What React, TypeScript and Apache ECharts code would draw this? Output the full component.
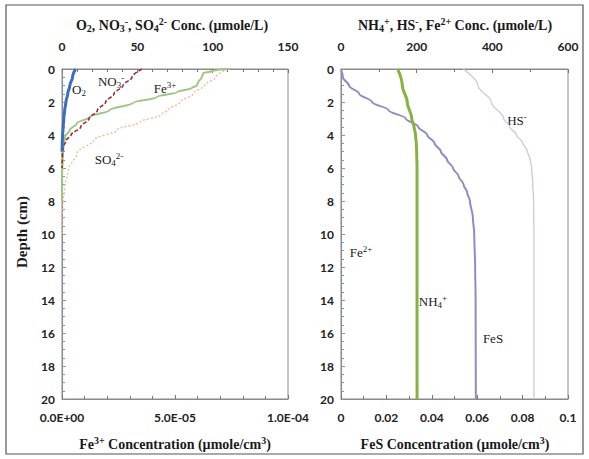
import React, { useEffect, useRef } from "react";
import * as echarts from "echarts";

// ---- Data (depth in cm) ----
const o2Depth = [0, 0.5, 1, 1.5, 2, 2.5, 3, 3.5, 4, 4.5, 5];
const o2Conc = [9, 7, 5.2, 3.8, 2.6, 1.8, 1.2, 0.8, 0.4, 0.15, 0.05];

const no3Depth = [0, 0.5, 1, 1.5, 2, 2.5, 3, 3.5, 4, 4.3, 4.7, 5, 6];
const no3Conc = [53, 46.5, 40.5, 34.5, 29, 23.5, 18, 12.5, 6, 3, 1, 0.3, 0];

const so4Depth = [0, 0.5, 1, 1.5, 2, 2.5, 2.8, 3.2, 3.7, 4.3, 5.1, 6.1, 7.1, 7.9, 8.5, 9, 10];
const so4Conc = [110, 102, 94.5, 87, 78.5, 70, 65, 52, 36.5, 21, 10, 4.2, 2, 0.9, 0.3, 0, 0];

const fe3Depth = [0, 0.1, 0.25, 0.5, 0.8, 1.0, 1.15, 1.4, 1.7, 2.05, 2.5, 2.9, 3.3, 3.7, 4.1, 4.7, 5.5, 6.5, 8];
const fe3Conc = [7.39e-5, 6.7e-5, 6.25e-5, 6.18e-5, 6.03e-5, 5.96e-5, 5.75e-5, 5.1e-5, 4.2e-5, 3.15e-5, 2.1e-5, 1.25e-5, 6.5e-6, 3.5e-6, 1.4e-6, 6e-7, 3e-7, 0, 0];

const nh4Depth = [0, 1, 2, 3, 3.5, 4, 4.5, 5, 6, 20];
const nh4Conc = [150, 162, 175, 187, 193, 197, 199, 200, 201, 201];

const hsDepth = [0, 1, 2, 3, 3.5, 4, 4.5, 5, 5.5, 6, 7, 8, 10, 20];
const hsConc = [323, 362, 397, 430, 446, 464, 481, 493, 500, 504, 507, 509, 510, 510];

const fesDepth = [0, 0.5, 1, 1.5, 2, 2.5, 3, 3.5, 4, 4.5, 5, 5.5, 6, 6.5, 7, 7.5, 8, 9, 10, 12, 14, 20];
const fesConc = [0, 0.0008, 0.0035, 0.008, 0.0137, 0.021, 0.0285, 0.034, 0.038, 0.0412, 0.044, 0.0467, 0.0493, 0.0518, 0.054, 0.0556, 0.0568, 0.0581, 0.0587, 0.0591, 0.0593, 0.0594];

const pair = (xs: number[], ds: number[]) => xs.map((v, i) => [v, ds[i]]);

const SERIF = "'Liberation Serif', 'DejaVu Serif', serif";
const SANS = "Lato, 'Liberation Sans', sans-serif";

function rich(size: number, weight: string) {
  const small = Math.round(size * 0.68);
  return {
    n: { fontSize: size, fontWeight: weight, fontFamily: SERIF, lineHeight: size + 3, fill: "#1a1a1a" },
    s: { fontSize: small, fontWeight: weight, fontFamily: SERIF, lineHeight: small, verticalAlign: "bottom", fill: "#1a1a1a" },
    p: { fontSize: small, fontWeight: weight, fontFamily: SERIF, lineHeight: small, verticalAlign: "top", fill: "#1a1a1a" },
  };
}

function txt(text: string, x: number, y: number, size: number, weight: string, rotation = 0) {
  return {
    type: "text",
    x,
    y,
    rotation,
    style: { text, align: "center", verticalAlign: "middle", rich: rich(size, weight) },
  };
}

function sci(v: number) {
  if (v === 0) return "0.0E+00";
  const e = Math.floor(Math.log10(Math.abs(v)) + 1e-9);
  const m = v / Math.pow(10, e);
  return `${m.toFixed(1)}E${e < 0 ? "-" : "+"}${String(Math.abs(e)).padStart(2, "0")}`;
}

const tickLabel = { fontFamily: SANS, fontWeight: "bold" as const, fontSize: 12, color: "#222" };
const axisGray = { color: "#8a8a8a", width: 1 };

function xAx(grid: number, pos: string, max: number, interval: number, split: number, extra: any = {}) {
  return {
    type: "value",
    gridIndex: grid,
    position: pos,
    min: 0,
    max,
    interval,
    axisLine: { show: true, onZero: false, lineStyle: axisGray },
    axisTick: { show: true, inside: true, length: 4, lineStyle: { color: "#777" } },
    minorTick: { show: true, splitNumber: split, length: 3, lineStyle: { color: "#777" } },
    splitLine: { show: false },
    axisLabel: { ...tickLabel, margin: pos === "top" ? 17 : 12, ...extra },
  };
}

function yAx(grid: number) {
  return {
    type: "value",
    gridIndex: grid,
    inverse: true,
    min: 0,
    max: 20,
    interval: 2,
    axisLine: { show: true, onZero: false, lineStyle: axisGray },
    axisTick: { show: true, inside: true, length: 4, lineStyle: { color: "#6b9bb5" } },
    minorTick: { show: true, splitNumber: 4, length: 3, lineStyle: { color: "#6b9bb5" } },
    splitLine: { show: false },
    axisLabel: { ...tickLabel, margin: 7 },
  };
}

function line(name: string, data: number[][], xi: number, yi: number, color: string, width: number, type: any = "solid") {
  return {
    name,
    type: "line",
    xAxisIndex: xi,
    yAxisIndex: yi,
    data,
    showSymbol: false,
    smooth: 0.35,
    smoothMonotone: "y",
    lineStyle: { color, width, type },
    silent: true,
  };
}

export default function App() {
  const ref = useRef<HTMLDivElement>(null);
  useEffect(() => {
    const chart = echarts.init(ref.current!, undefined, { renderer: "svg" });
    chart.setOption({
      animation: false,
      backgroundColor: "#ffffff",
      grid: [
        { left: 62, top: 69, width: 226, height: 330, show: true, borderColor: "#8a8a8a", borderWidth: 1, backgroundColor: "transparent" },
        { left: 341, top: 69, width: 227, height: 330, show: true, borderColor: "#8a8a8a", borderWidth: 1, backgroundColor: "transparent" },
      ],
      xAxis: [
        xAx(0, "top", 150, 50, 5),
        xAx(0, "bottom", 1e-4, 5e-5, 5, { formatter: (v: number) => sci(v) }),
        xAx(1, "top", 600, 200, 2),
        xAx(1, "bottom", 0.1, 0.02, 2),
      ],
      yAxis: [yAx(0), yAx(1)],
      series: [
        line("SO4", pair(so4Conc, so4Depth), 0, 0, "#f2b58c", 1.3, [2, 2]),
        line("Fe3+", pair(fe3Conc, fe3Depth), 1, 0, "#9cc77f", 2),
        line("NO3", pair(no3Conc, no3Depth), 0, 0, "#9b2d3a", 1.6, [4, 2]),
        line("O2", pair(o2Conc, o2Depth), 0, 0, "#3b6cc0", 3),
        line("HS", pair(hsConc, hsDepth), 2, 1, "#c9c9df", 1.3),
        line("FeS", pair(fesConc, fesDepth), 3, 1, "#8d8dc4", 2),
        line("NH4", pair(nh4Conc, nh4Depth), 2, 1, "#84b33f", 3),
      ],
      graphic: [
        { type: "rect", shape: { x: 6, y: 5, width: 577, height: 449 }, style: { fill: "none", stroke: "#555", lineWidth: 1.2 }, silent: true },
        txt("{n|O}{s|2}{n|, NO}{s|3}{p|-}{n|, SO}{s|4}{p|2-}{n| Conc. (µmole/L)}", 172, 25, 14, "bold"),
        txt("{n|NH}{s|4}{p|+}{n|, HS}{p|-}{n|, Fe}{p|2+}{n| Conc. (µmole/L)}", 455, 25, 14, "bold"),
        txt("{n|Fe}{p|3+}{n| Concentration (µmole/cm}{p|3}{n|)}", 175, 444, 14, "bold"),
        txt("{n|FeS Concentration (µmole/cm}{p|3}{n|)}", 455, 444, 14, "bold"),
        txt("{n|Depth (cm)}", 22, 232, 15, "bold", Math.PI / 2),
        txt("{n|O}{s|2}", 79, 89, 13, "normal"),
        txt("{n|NO}{s|3}{p|-}", 111, 81, 13, "normal"),
        txt("{n|Fe}{p|3+}", 165, 88, 13, "normal"),
        txt("{n|SO}{s|4}{p|2-}", 109, 159, 13, "normal"),
        txt("{n|HS}{p|-}", 517, 120, 13, "normal"),
        txt("{n|Fe}{p|2+}", 361, 252, 13, "normal"),
        txt("{n|NH}{s|4}{p|+}", 433, 301, 13, "normal"),
        txt("{n|FeS}", 493, 338, 13, "normal"),
      ],
    });
    return () => chart.dispose();
  }, []);
  return <div ref={ref} style={{ position: "fixed", left: 0, top: 0, width: 589, height: 459 }} />;
}
